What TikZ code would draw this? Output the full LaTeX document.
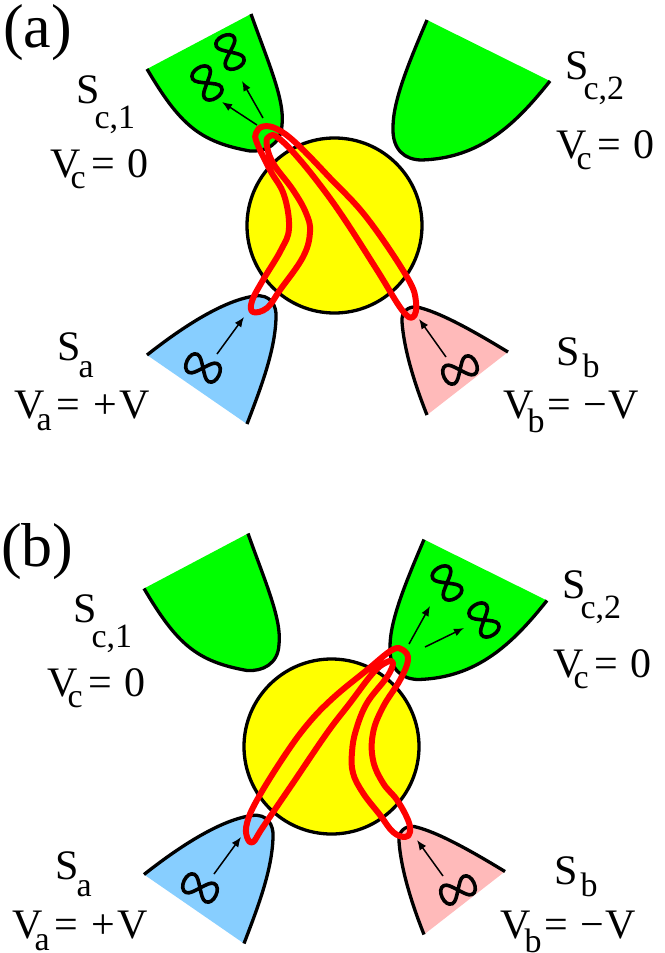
\documentclass[tikz,border=0pt]{standalone}
\usepackage{fontspec}
\setmainfont{Liberation Serif}
\usetikzlibrary{arrows.meta}
\definecolor{leadgreen}{RGB}{0,255,0}
\definecolor{leadblue}{RGB}{135,206,255}
\definecolor{leadpink}{RGB}{255,186,186}
\definecolor{dotyellow}{RGB}{255,255,0}
\definecolor{loopred}{RGB}{255,0,0}
\tikzset{
    leadedge/.style={line width=3.3pt},
    dotedge/.style={line width=3.3pt, fill=dotyellow},
    loopline/.style={line width=6pt, draw=loopred, line join=round},
    flowarrow/.style={line width=1.5pt, -{Latex[length=10pt,width=8pt]}},
    pairline/.style={line width=3.6pt},
    panellabel/.style={anchor=base west, inner sep=0pt, font=\fontsize{62}{66}\selectfont},
    volt/.style={anchor=base west, inner sep=0pt, font=\fontsize{42}{46}\selectfont},
}
% kern, drop, text
\newcommand{\lowtext}[3]{\kern#1pt\raisebox{-#2pt}[0pt][0pt]{\fontsize{34}{34}\selectfont #3}}
\newcommand{\vzero}{\kern6pt=\kern12pt 0}
% figure eight: centre, tilt
\newcommand{\pairmark}[2]{
    \draw[pairline, shift={(#1)}, rotate=#2]
        (0,0) .. controls (4,-5) and (7,-10) .. (11,-10)
        .. controls (15,-10) and (17.5,-5.5) .. (17.5,0)
        .. controls (17.5,5.5) and (15,10) .. (11,10)
        .. controls (7,10) and (4,5) .. (0,0)
        .. controls (-4,-5) and (-7,-10) .. (-11,-10)
        .. controls (-15,-10) and (-17.5,-5.5) .. (-17.5,0)
        .. controls (-17.5,5.5) and (-15,10) .. (-11,10)
        .. controls (-7,10) and (-4,5) .. (0,0) -- cycle;
}
\newcommand{\leadshapes}{
    \fill[leadgreen]
        (251,14) .. controls (268,62) and (285,100) .. (282,125)
        .. controls (281,145) and (265,152) .. (250,151)
        .. controls (200,142) and (180,125) .. (147,69) -- cycle;
    \draw[leadedge]
        (251,14) .. controls (268,62) and (285,100) .. (282,125)
        .. controls (281,145) and (265,152) .. (250,151)
        .. controls (200,142) and (180,125) .. (147,69);
    \fill[leadgreen]
        (427,20) .. controls (410,60) and (393,100) .. (393,127)
        .. controls (392,150) and (405,160) .. (422,160)
        .. controls (480,158) and (515,125) .. (550,81) -- cycle;
    \draw[leadedge]
        (427,20) .. controls (410,60) and (393,100) .. (393,127)
        .. controls (392,150) and (405,160) .. (422,160)
        .. controls (480,158) and (515,125) .. (550,81);
    \fill[leadblue]
        (147,355) .. controls (185,325) and (225,300) .. (255,296)
        .. controls (270,294) and (277,305) .. (276,318)
        .. controls (275,350) and (262,385) .. (247,424) -- cycle;
    \draw[leadedge]
        (147,355) .. controls (185,325) and (225,300) .. (255,296)
        .. controls (270,294) and (277,305) .. (276,318)
        .. controls (275,350) and (262,385) .. (247,424);
    \fill[leadpink]
        (508,352) .. controls (475,332) and (440,312) .. (417,307)
        .. controls (408,306) and (401,312) .. (402,322)
        .. controls (404,350) and (415,385) .. (427,415) -- cycle;
    \draw[leadedge]
        (508,352) .. controls (475,332) and (440,312) .. (417,307)
        .. controls (408,306) and (401,312) .. (402,322)
        .. controls (404,350) and (415,385) .. (427,415);
}
\begin{document}
\begin{tikzpicture}[x=1pt, y=-1pt]
    \useasboundingbox (0,0) rectangle (664,953);

    % panel a
    \leadshapes
    \draw[dotedge] (334.5,225.5) circle (87.5pt);
    \draw[loopline] plot[smooth cycle, tension=0.65] coordinates {
        (263,126.5) (277,129) (297,144) (330,178) (367,218) (407,277) (416,302)
        (413,317) (402,310) (377,270) (343,217) (317,181) (293,152) (277,137)
        (270,136) (266.5,143) (273,163) (293,190) (306,213) (310,232) (303,257)
        (280,290) (267,308) (253,312) (252,301) (263,280) (281,250) (289,228)
        (284,195) (270,170) (257,143) (256,133)};
    \pairmark{230,52}{-65}
    \pairmark{207,83}{-58}
    \pairmark{203,368}{-25}
    \pairmark{460,370}{25}
    \draw[flowarrow] (263,118) -- (242,81);
    \draw[flowarrow] (257,125) -- (222,102);
    \draw[flowarrow] (217,354) -- (244,317);
    \draw[flowarrow] (446,357) -- (419,319);

    \node[panellabel] (tag a) at (3,47) {(a)};
    \node[volt] (s c1) at (76,103) {S\lowtext{-5}{25}{c,1}};
    \node[volt] (v c1) at (50,177) {V\lowtext{-10}{11}{c}\vzero};
    \node[volt] (s c2) at (565,79) {S\lowtext{-5}{20}{c,2}};
    \node[volt] (v c2) at (556,158) {V\lowtext{-10}{11}{c}\vzero};
    \node[volt] (s a) at (57,360) {S\lowtext{-2}{17}{a}};
    \node[volt] (v a) at (14,418) {V\lowtext{-8}{12}{a}\kern5pt=\kern13pt+\kern3pt V};
    \node[volt] (s b) at (556,365) {S\lowtext{3}{12}{b}};
    \node[volt] (v b) at (503,418) {V\lowtext{-6}{14}{b}\kern3pt=\kern12pt−\kern2pt V};

    % panel b
    \begin{scope}[shift={(-3,519.5)}]
        \leadshapes
    \end{scope}
    \draw[dotedge] (331.5,746.5) circle (87.5pt);
    \draw[loopline] plot[smooth cycle, tension=0.65] coordinates {
        (392,650) (403,650) (408,660) (400,680) (383,707) (373,733) (373,760)
        (383,783) (397,800) (408,820) (410,832) (405,837) (393,832) (380,815)
        (363,793) (353,773) (352,752) (356,730) (367,703) (387,677) (393,663)
        (387,662) (373,673) (350,703) (327,733) (293,783) (263,827) (253,842)
        (247,837) (247,823) (257,800) (283,758) (307,725) (333,698) (367,670)};
    \pairmark{447,583}{-60}
    \pairmark{484,620}{-58}
    \pairmark{200,888}{-25}
    \pairmark{458,890}{25}
    \draw[flowarrow] (409,644) -- (430,606);
    \draw[flowarrow] (425,647) -- (464,628);
    \draw[flowarrow] (214,874) -- (241,837);
    \draw[flowarrow] (443,876) -- (417,840);

    \node[panellabel] (tag b) at (1,566) {(b)};
    \node[volt] (s c1 b) at (73,622) {S\lowtext{-5}{25}{c,1}};
    \node[volt] (v c1 b) at (47,696) {V\lowtext{-10}{11}{c}\vzero};
    \node[volt] (s c2 b) at (562,598) {S\lowtext{-5}{20}{c,2}};
    \node[volt] (v c2 b) at (553,677) {V\lowtext{-10}{11}{c}\vzero};
    \node[volt] (s a b) at (55,879) {S\lowtext{-2}{17}{a}};
    \node[volt] (v a b) at (12,938) {V\lowtext{-8}{12}{a}\kern5pt=\kern13pt+\kern3pt V};
    \node[volt] (s b b) at (554,884) {S\lowtext{3}{12}{b}};
    \node[volt] (v b b) at (500,938) {V\lowtext{-6}{14}{b}\kern3pt=\kern12pt−\kern2pt V};
\end{tikzpicture}
\end{document}
